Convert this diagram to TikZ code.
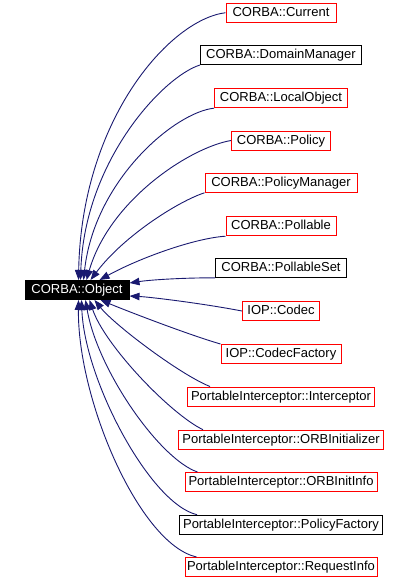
\documentclass[tikz,border=0pt]{standalone}
\usepackage{fontspec}
\setmainfont{Liberation Sans}
\usetikzlibrary{arrows.meta}

\begin{document}
\begin{tikzpicture}[x=1pt, y=-1pt,
        every node/.style={font=\fontsize{13}{15}\selectfont},
        cls/.style={draw=black, line width=1pt, minimum height=19pt, inner sep=0pt,
            text height=9.5pt, text depth=2.5pt},
        undoc/.style={cls, draw=red},
        base/.style={cls, fill=black, text=white},
        inh/.style={draw={rgb,255:red,25;green,25;blue,112}, line width=0.9pt,
            -{Triangle[length=10pt,width=7.5pt]}}]
        \useasboundingbox (0,0) rectangle (409,579);

        % Base class
        \node[base, minimum width=104pt] (obj) at (77,290) {CORBA::Object};

        % Derived classes, one column
        \node[undoc, minimum width=110pt] (cur)      at (281,12.7)  {CORBA::Current};
        \node[cls,   minimum width=161pt] (dommgr)   at (281,55)    {CORBA::DomainManager};
        \node[undoc, minimum width=133pt] (locobj)   at (281,98.2)  {CORBA::LocalObject};
        \node[undoc, minimum width=99pt]  (policy)   at (281,140.5) {CORBA::Policy};
        \node[undoc, minimum width=152pt] (polmgr)   at (281,182.8) {CORBA::PolicyManager};
        \node[undoc, minimum width=110pt] (poll)     at (281,226.2) {CORBA::Pollable};
        \node[cls,   minimum width=131pt] (pollset)  at (281,267.8) {CORBA::PollableSet};
        \node[undoc, minimum width=77pt]  (codec)    at (281,311)   {IOP::Codec};
        \node[undoc, minimum width=120pt] (codecfac) at (281,354)   {IOP::CodecFactory};
        \node[undoc, minimum width=187pt] (icept)    at (281,396.5) {PortableInterceptor::Interceptor};
        \node[undoc, minimum width=205pt] (orbinit)  at (281,439.7) {PortableInterceptor::ORBInitializer};
        \node[undoc, minimum width=192pt] (orbinfo)  at (281,482)   {PortableInterceptor::ORBInitInfo};
        \node[cls,   minimum width=203pt] (polfac)   at (281,524.7) {PortableInterceptor::PolicyFactory};
        \node[undoc, minimum width=192pt] (reqinfo)  at (281,567)   {PortableInterceptor::RequestInfo};

        % Inheritance edges, upper half
        \draw[inh] (cur.west) .. controls +(-56,7) and +(3,-160) .. ([xshift=54]obj.north west);
        \draw[inh] (dommgr.south west) .. controls +(-36,11) and +(4,-120) .. ([xshift=56]obj.north west);
        \draw[inh] (locobj.south west) .. controls +(-39,4) and +(11,-100) .. ([xshift=59]obj.north west);
        \draw[inh] (policy.west) .. controls +(-41,7) and +(23,-80) .. ([xshift=62]obj.north west);
        \draw[inh] (polmgr.south west) .. controls +(-25,8) and +(34,-45) .. ([xshift=66]obj.north west);
        \draw[inh] (poll.south west) .. controls +(-31,2) and +(40,-22) .. ([xshift=75]obj.north west);

        % Inheritance edges, middle
        \draw[inh] (pollset.south west) .. controls +(-35,0) and +(20,-3) .. ([yshift=7]obj.east);
        \draw[inh] (codec.west) .. controls +(-42,-8) and +(20,1) .. ([yshift=-6]obj.east);

        % Inheritance edges, lower half
        \draw[inh] (codecfac.north west) .. controls +(-31,-9) and +(29,12) .. ([xshift=76]obj.south west);
        \draw[inh] ([xshift=23]icept.north west) .. controls +(-30,-12) and +(20,25) .. ([xshift=70]obj.south west);
        \draw[inh] ([xshift=25]orbinit.north west) .. controls +(-33,-16) and +(15,45) .. ([xshift=65]obj.south west);
        \draw[inh] ([xshift=13]orbinfo.north west) .. controls +(-38,-13) and +(12,70) .. ([xshift=61]obj.south west);
        \draw[inh] ([xshift=18]polfac.north west) .. controls +(-47,-11) and +(3,80) .. ([xshift=57]obj.south west);
        \draw[inh] ([xshift=12]reqinfo.north west) .. controls +(-57,-13) and +(-1,100) .. ([xshift=54]obj.south west);
    \end{tikzpicture}
\end{document}
